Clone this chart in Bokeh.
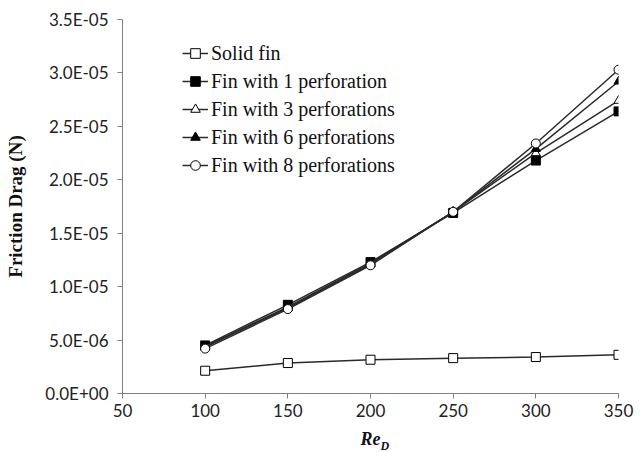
from bokeh.plotting import figure
from bokeh.models import (Legend, LegendItem, FixedTicker, CustomJSTickFormatter, Title)
from bokeh.embed import file_html
from bokeh.resources import INLINE

# ---- data ----
re_d = [100, 150, 200, 250, 300, 350]
solid_fin = [2.13e-6, 2.85e-6, 3.16e-6, 3.31e-6, 3.41e-6, 3.62e-6]
perf_1 = [4.5e-6, 8.3e-6, 12.3e-6, 16.9e-6, 21.8e-6, 26.4e-6]
perf_3 = [4.4e-6, 8.1e-6, 12.2e-6, 17.0e-6, 22.5e-6, 27.4e-6]
perf_6 = [4.35e-6, 8.0e-6, 12.1e-6, 17.0e-6, 22.9e-6, 29.2e-6]
perf_8 = [4.2e-6, 7.9e-6, 12.0e-6, 17.0e-6, 23.4e-6, 30.3e-6]

series_names = ["Solid fin", "Fin with 1 perforation", "Fin with 3 perforations",
                "Fin with 6 perforations", "Fin with 8 perforations"]
x_ticks = [50, 100, 150, 200, 250, 300, 350]
y_ticks = [0, 5e-6, 1e-5, 1.5e-5, 2e-5, 2.5e-5, 3e-5, 3.5e-5]

p = figure(width=640, height=452, output_backend="svg", toolbar_location=None,
           x_range=(50, 350), y_range=(0, 3.5e-5),
           min_border_left=122, min_border_right=22, min_border_top=19, min_border_bottom=59)
p.xgrid.visible = False
p.ygrid.visible = False
p.outline_line_color = None
p.background_fill_color = "white"

styles = [
    dict(marker="square", fill_color="white"),
    dict(marker="square", fill_color="black"),
    dict(marker="triangle", fill_color="white"),
    dict(marker="triangle", fill_color="black"),
    dict(marker="circle", fill_color="white"),
]
data = [solid_fin, perf_1, perf_3, perf_6, perf_8]
items = []
for name, ys, st in zip(series_names, data, styles):
    ln = p.line(re_d, ys, line_color="#2a2a2a", line_width=1.5)
    sc = p.scatter(re_d, ys, marker=st["marker"], size=9, fill_color=st["fill_color"],
                   line_color="black", line_width=1)
    items.append(LegendItem(label=name, renderers=[ln, sc]))

legend = Legend(items=items, location=(60, 216), padding=0, margin=0, spacing=4,
                glyph_width=26, glyph_height=24, label_height=24, label_standoff=3,
                label_text_font="Liberation Serif", label_text_font_size="20px",
                label_text_color="#111", border_line_color=None, background_fill_alpha=0)
p.add_layout(legend, "center")

fmt = CustomJSTickFormatter(code="""
const s = tick.toExponential(1);
const parts = s.split('e');
const sign = parts[1][0];
const d = parts[1].slice(1).padStart(2, '0');
return parts[0] + 'E' + sign + d;
""")

for ax in (p.xaxis[0], p.yaxis[0]):
    ax.axis_line_color = "#808080"
    ax.major_tick_line_color = "#808080"
    ax.major_tick_out = 5
    ax.major_tick_in = 0
    ax.minor_tick_out = 0
    ax.minor_tick_in = 0
    ax.major_label_text_font = "Lato"
    ax.major_label_text_font_size = "17px"
    ax.major_label_text_color = "#222"

p.xaxis[0].ticker = FixedTicker(ticks=x_ticks)
p.yaxis[0].ticker = FixedTicker(ticks=y_ticks)
p.yaxis[0].formatter = fmt
p.yaxis[0].major_label_standoff = 9
p.yaxis[0].axis_label = "Friction Drag (N)"
p.yaxis[0].axis_label_text_font = "Liberation Serif"
p.yaxis[0].axis_label_text_font_style = "bold"
p.yaxis[0].axis_label_text_font_size = "19px"
p.yaxis[0].axis_label_text_color = "#111"
p.yaxis[0].axis_label_standoff = 16

p.xaxis[0].axis_label = "Re"
p.xaxis[0].axis_label_text_font = "Liberation Serif"
p.xaxis[0].axis_label_text_font_style = "bold italic"
p.xaxis[0].axis_label_text_font_size = "18px"
p.xaxis[0].axis_label_text_color = "#111"
p.xaxis[0].axis_label_standoff = 9

sub = Title(text="D", align="left", offset=258, standoff=-26, vertical_align="top",
            text_font="Liberation Serif", text_font_style="bold italic",
            text_font_size="12px", text_color="#111")
p.add_layout(sub, "below")

open("out.html", "w").write(file_html(p, INLINE))
